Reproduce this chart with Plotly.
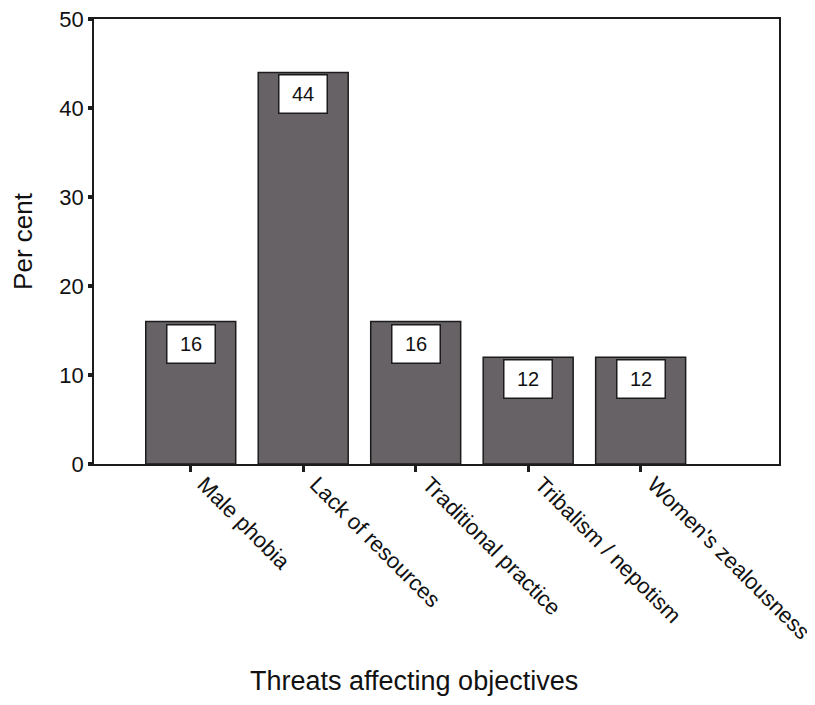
import plotly.graph_objects as go

categories = ["Male phobia", "Lack of resources", "Traditional practice",
              "Tribalism / nepotism", "Women's zealousness"]
values = [16, 44, 16, 12, 12]
y_ticks = [0, 10, 20, 30, 40, 50]

FONT = "Liberation Sans, Arial, sans-serif"

fig = go.Figure()
fig.add_trace(go.Bar(
    x=list(range(len(categories))),
    y=values,
    width=0.8,
    marker=dict(color="#676265", line=dict(color="#1c1c1c", width=1.5)),
    hoverinfo="skip",
))

for i, v in enumerate(values):
    fig.add_annotation(
        x=i, y=v, xref="x", yref="y",
        text=str(v), showarrow=False,
        yanchor="top", yshift=-2,
        font=dict(family=FONT, size=20, color="#111111"),
        bgcolor="white", bordercolor="#1c1c1c", borderwidth=1.5,
        width=45, height=35, borderpad=1,
    )

# x-axis title (placed slightly left of plot centre as in the reference)
fig.add_annotation(
    text="Threats affecting objectives", xref="paper", yref="paper",
    x=0.467, y=-0.487, xanchor="center", yanchor="middle", showarrow=False,
    font=dict(family=FONT, size=27, color="#111111"),
)

fig.update_layout(
    width=815, height=705,
    margin=dict(l=86, r=44, t=11, b=249),
    paper_bgcolor="white", plot_bgcolor="white",
    showlegend=False,
    font=dict(family=FONT, color="#111111"),
    xaxis=dict(
        range=[-0.86, 5.23],
        automargin=False,
        tickmode="array",
        tickvals=list(range(len(categories))),
        ticktext=categories,
        tickangle=45,
        ticks="outside", ticklen=6, tickwidth=2.5, tickcolor="#1c1c1c",
        ticklabelshift=13, ticklabelstandoff=-9,
        ticklabeloverflow="allow",
        showline=True, linecolor="#1c1c1c", linewidth=1.5, mirror=True,
        showgrid=False, zeroline=False,
        tickfont=dict(size=22, family=FONT),
    ),
    yaxis=dict(
        range=[0, 50],
        automargin=False,
        tickmode="array", tickvals=y_ticks,
        ticks="outside", ticklen=4, tickwidth=3.5, tickcolor="#1c1c1c",
        ticklabeloverflow="allow",
        showline=True, linecolor="#1c1c1c", linewidth=1.5, mirror=True,
        showgrid=False, zeroline=False,
        tickfont=dict(size=22, family=FONT),
        title=dict(text="Per cent", font=dict(size=26, family=FONT), standoff=22),
    ),
)

fig.write_html("out.html")
